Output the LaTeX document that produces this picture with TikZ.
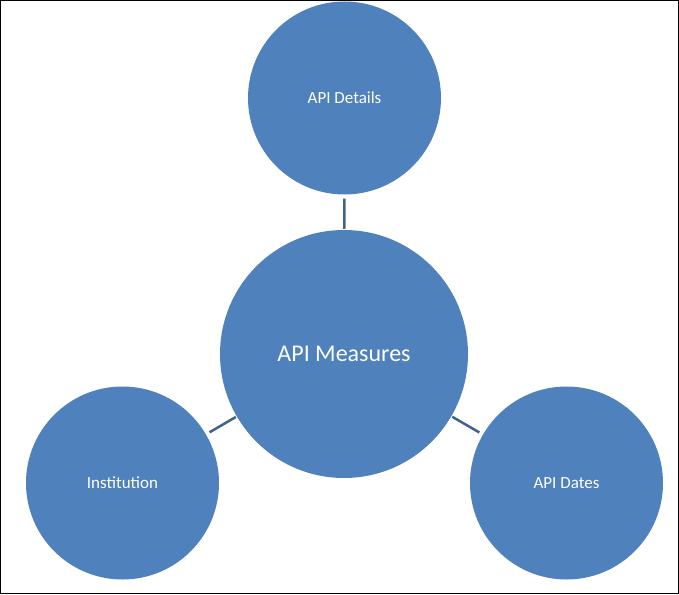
\documentclass[tikz,border=0pt]{standalone}
\usepackage{fontspec}
\setmainfont{Carlito}
\definecolor{fillb}{HTML}{4F81BD}
\definecolor{lineb}{HTML}{41628E}
\begin{document}
\begin{tikzpicture}[x=1pt,y=-1pt,
  bub/.style={circle,fill=fillb,draw=none,text=white,inner sep=0pt},
  link/.style={draw=lineb,line width=2.5pt,shorten <=4pt,shorten >=1pt}]
\useasboundingbox (0,0) rectangle (679,594);
\draw[black,line width=1pt] (0.5,0.5) rectangle (678.5,593.5);
\node[bub,minimum size=248pt,font=\fontsize{24}{28}\selectfont] (m) at (344,354) {API Measures};
\node[bub,minimum size=193pt,font=\fontsize{17}{20}\selectfont] (d) at (344.5,98) {API Details};
\node[bub,minimum size=193pt,font=\fontsize{17}{20}\selectfont] (i) at (122.5,483) {Institution};
\node[bub,minimum size=193pt,font=\fontsize{17}{20}\selectfont] (t) at (566.5,483) {API Dates};
\draw[link] (d) -- (m);
\draw[link] (i) -- (m);
\draw[link] (t) -- (m);
\end{tikzpicture}
\end{document}
